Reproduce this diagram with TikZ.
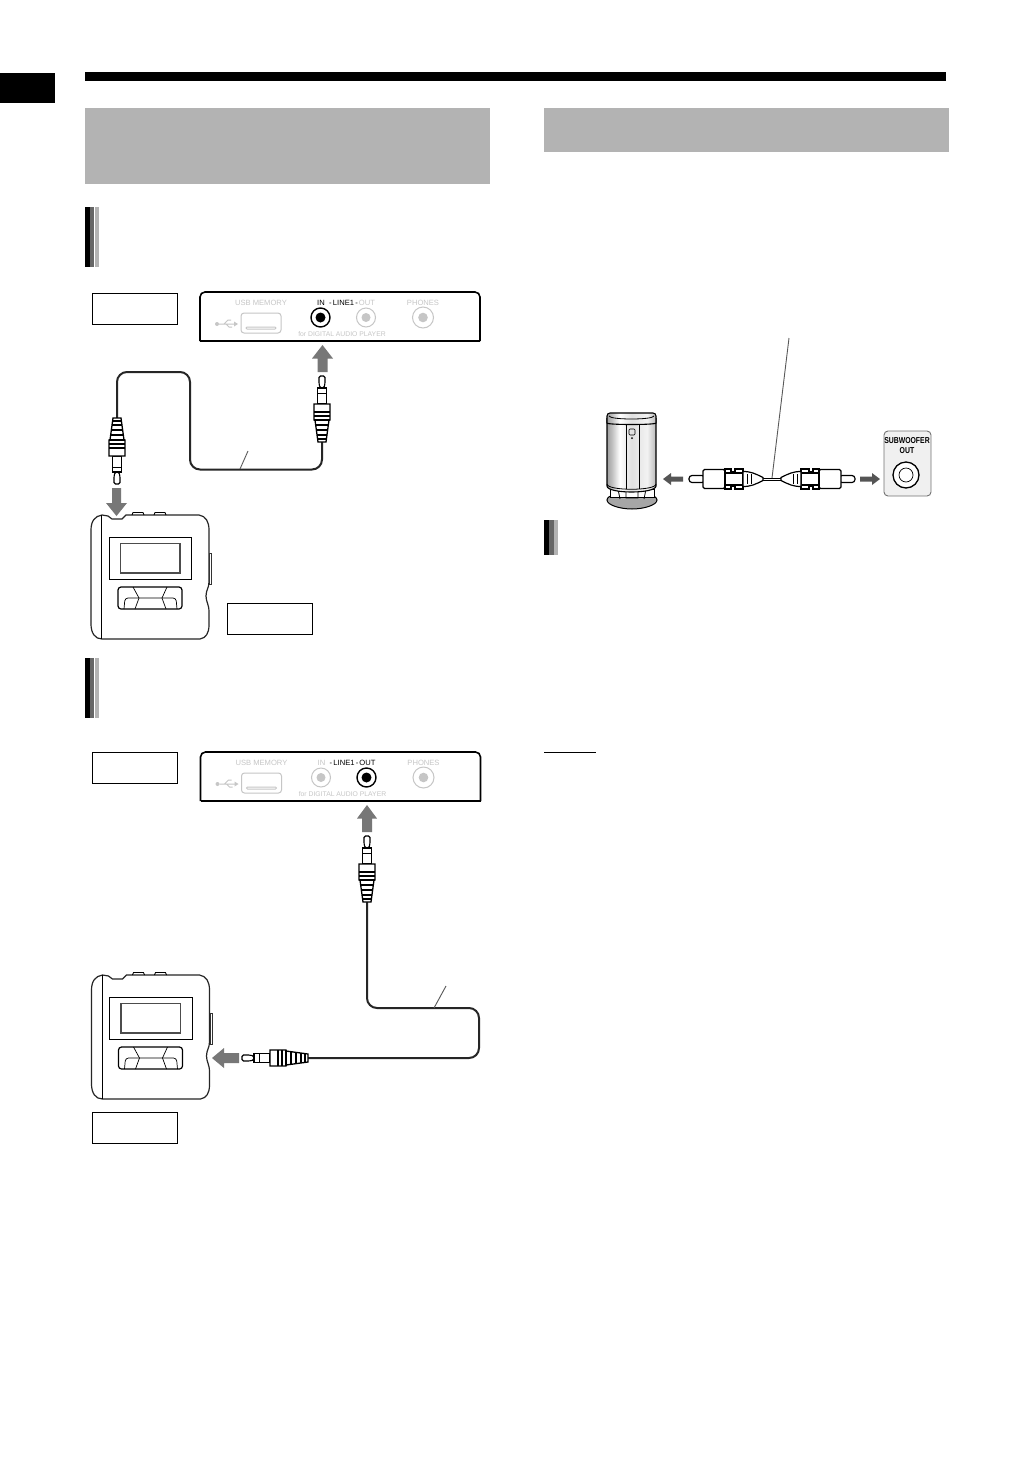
\documentclass[tikz,border=0pt]{standalone}
\usepackage{fontspec}
\setmainfont{Liberation Sans}
\definecolor{hdr}{HTML}{B3B3B3}
\definecolor{barmid}{HTML}{666666}
\definecolor{faint}{HTML}{C6C6C6}
\definecolor{arrowg}{HTML}{777777}
\definecolor{arrowd}{HTML}{555555}
\pgfdeclarehorizontalshading{spkbody}{100bp}{
  color(0bp)=(black!75); color(14bp)=(black!65); color(30bp)=(black!25); color(38bp)=(white);
  color(50bp)=(black!12); color(66bp)=(black!5); color(82bp)=(black!45); color(100bp)=(black!75)}
\tikzset{
  x=1pt,y=-1pt,
  labelbox/.style={draw=black,line width=1pt,fill=white,minimum width=85pt,minimum height=31pt,anchor=north west,inner sep=0pt},
  cable/.style={draw=black!85,line width=2pt,rounded corners=10pt},
  leader/.style={draw=black!65,line width=0.9pt},
  blockarrow/.style={fill=arrowg,draw=none},
  darkarrow/.style={fill=arrowd,draw=none},
  faintline/.style={draw=faint,line width=1pt},
  paneltext/.style={inner sep=0pt,font=\fontsize{7.6}{8}\selectfont},
  jackplug/.pic={
    \draw[line width=1.1pt,fill=white,rounded corners=1.5pt] (-3,0) -- (3,0) -- (3,8) -- (1.8,12) -- (-1.8,12) -- (-3,8) -- cycle;
    \draw[line width=1.2pt,fill=white] (-4.2,12) -- (4.2,12) -- (4.2,28) -- (-4.2,28) -- cycle;
    \draw[line width=1pt] (-4.2,17) -- (4.2,17);
    \draw[line width=1.3pt,fill=white] (-8,28) -- (8,28) -- (8,44) -- (7,44) -- (4,66) -- (-4,66) -- (-7,44) -- (-8,44) -- cycle;
    \draw[line width=1.6pt] (-8,36) -- (8,36) (-8,40) -- (8,40) (-8,44) -- (8,44);
    \draw[line width=1.3pt] (-6.5,49) -- (6.5,49) (-6,54) -- (6,54) (-5.2,59) -- (5.2,59) (-4.5,63) -- (4.5,63);
  },
  rcaplug/.pic={
    \draw[line width=1.2pt,fill=white,rounded corners=3pt] (0,-3.5) -- (16,-3.5) -- (16,3.5) -- (0,3.5) -- cycle;
    \draw[line width=1.3pt,fill=white,rounded corners=1.5pt] (14,-9.5) -- (36,-9.5) -- (36,9.5) -- (14,9.5) -- cycle;
    \draw[line width=1.3pt,fill=white] (36,-10) -- (42,-10) -- (42,-7) -- (46,-7) -- (46,-10) -- (54,-10) -- (54,10) -- (46,10) -- (46,7) -- (42,7) -- (42,10) -- (36,10) -- cycle;
    \draw[line width=1.1pt] (36,-6) -- (54,-6) (36,6) -- (54,6);
    \draw[line width=1.2pt,fill=white] (54,-7.5) .. controls (62,-7.5) and (66,-5.5) .. (74,-1.5) -- (74,1.5) .. controls (66,5.5) and (62,7.5) .. (54,7.5) -- cycle;
    \draw[line width=0.9pt] (58,-5) -- (58,5) (62,-5) -- (62,5);
  }
}
\newcommand{\drawpanel}[4]{% #1 IN colour, #2 OUT colour, #3 x of active jack, #4 x of inactive jack
  \fill[white] (200,292) rectangle (480,341);
  \draw[line width=1.6pt,rounded corners=5pt] (200,341) -- (200,292) -- (480,292) -- (480,341);
  \draw[line width=1.3pt] (200,341) -- (480,341);
  \node[paneltext,text=faint] (usbt#3) at (261,303) {USB MEMORY};
  \node[paneltext,text=#1] (int#3) at (321,303) {IN};
  \node[paneltext,text=black] (linet#3) at (343.5,303) {-\,LINE1\,-};
  \node[paneltext,text=#2] (outt#3) at (367,303) {OUT};
  \node[paneltext,text=faint] (phot#3) at (423,303) {PHONES};
  \node[paneltext,text=faint,font=\fontsize{6.8}{7}\selectfont] (fort#3) at (342,334.5) {for DIGITAL AUDIO PLAYER};
  \draw[faintline,rounded corners=3pt] (241,313) rectangle (281,333);
  \draw[faintline,rounded corners=1pt] (246,327) rectangle (276,329);
  \draw[faintline] (219,324) -- (236,324) (224,324) -- (228,320) -- (231,320) (226,324) -- (229,327) -- (232,327);
  \fill[faint] (217,324) circle[radius=2];
  \fill[faint] (238,324) -- (234,321.5) -- (234,326.5) -- cycle;
  \draw[line width=1.4pt] (#3,317.5) circle[radius=9.5];
  \fill[black] (#3,317.5) circle[radius=5];
  \draw[faintline] (#4,317.5) circle[radius=9.5];
  \fill[faint] (#4,317.5) circle[radius=4.5];
  \draw[faintline] (423,317.5) circle[radius=10.5];
  \fill[faint] (423,317.5) circle[radius=4.8];
}
\newcommand{\drawplayer}{%
  \draw[line width=1.2pt,draw=black!85] (102,515) .. controls (95,516) and (91,521) .. (91,530) -- (91,624) .. controls (91,633) and (95,639) .. (102,639)
     -- (200,639) .. controls (206,638) and (209,633) .. (209,625) -- (209,612) .. controls (209,604) and (206,602) .. (206,596)
     .. controls (206,590) and (209,588) .. (209,582) -- (209,530) .. controls (209,522) and (206,516) .. (199,515)
     -- (126,515) -- (122,519) -- (112,519) -- (108,516) -- cycle;
  \draw[line width=1pt] (101.5,515) -- (101.5,639);
  \draw[line width=0.9pt] (132,515) -- (133,512.5) -- (143,512.5) -- (144,515);
  \draw[line width=0.9pt] (154,515) -- (155,512.5) -- (165,512.5) -- (166,515);
  \draw[line width=1pt,draw=black!80] (209.5,553) rectangle (211.5,584);
  \draw[line width=0.9pt] (109,537) rectangle (191.5,579);
  \draw[line width=1.5pt,draw=black!70] (120.5,543.5) rectangle (180,573);
  \draw[line width=1.2pt,rounded corners=3pt] (118,587) rectangle (182,609);
  \draw[line width=0.7pt,rounded corners=3pt] (124,609) -- (125,598) -- (176,598) -- (177,609);
  \draw[line width=0.7pt] (133,587) -- (139,598) -- (135,609) (167,587) -- (162,598) -- (166,609);
}
\begin{document}
\begin{tikzpicture}
\useasboundingbox (0,0) rectangle (1031,1457);
\fill[white] (0,0) rectangle (1031,1457);
% page furniture
\fill[black] (85,72) rectangle (946,81);
\fill[black] (0,73) rectangle (55,103);
\fill[hdr] (85,108) rectangle (490,184);
\fill[hdr] (544,108) rectangle (949,152);
\foreach \yt/\yb in {207/267,658/718}{
  \fill[black] (85,\yt) rectangle (90,\yb);
  \fill[barmid] (90,\yt) rectangle (94,\yb);
  \fill[hdr] (95,\yt) rectangle (99,\yb);
}
\fill[black] (544,520) rectangle (549,555);
\fill[barmid] (549,520) rectangle (554,555);
\fill[hdr] (554,520) rectangle (558,555);
\draw[line width=1.2pt] (544,752.5) -- (596,752.5);
% label boxes
\node[labelbox] (box1) at (92,293) {};
\node[labelbox] (box2) at (227,603) {};
\node[labelbox] (box3) at (92,752) {};
\node[labelbox] (box4) at (92,1112) {};
% panels
\drawpanel{black}{faint}{320.5}{366}
\begin{scope}[shift={(0.5,460)}]
\drawpanel{faint}{black}{366}{320.5}
\end{scope}
% players
\drawplayer
\begin{scope}[shift={(0.5,460)}]
\drawplayer
\end{scope}
% upper connection
\coordinate (pa) at (322,442);
\coordinate (pb) at (117,420);
\draw[cable] (pb) -- (117,372) -- (190,372) -- (190,469.5) -- (322,469.5) -- (pa);
\pic at (322,376) {jackplug};
\pic[rotate=180] at (117,484) {jackplug};
\coordinate (la) at (240,469);
\coordinate (lb) at (248,451);
\draw[leader] (la) -- (lb);
\fill[blockarrow] (322.5,345) -- (333,358.5) -- (327.5,358.5) -- (327.5,372) -- (317.5,372) -- (317.5,358.5) -- (312,358.5) -- cycle;
\fill[blockarrow] (116.5,516) -- (106,503) -- (112,503) -- (112,488) -- (121,488) -- (121,503) -- (127,503) -- cycle;
% lower connection
\coordinate (pc) at (367,902);
\coordinate (pd) at (307,1058);
\draw[cable] (pc) -- (367,1008) -- (479,1008) -- (479,1058) -- (pd);
\pic at (367,836) {jackplug};
\pic[rotate=90] at (242,1058) {jackplug};
\coordinate (lc) at (434,1008);
\coordinate (ld) at (446,986);
\draw[leader] (lc) -- (ld);
\fill[blockarrow] (367,805) -- (377,818.5) -- (372,818.5) -- (372,832) -- (362,832) -- (362,818.5) -- (357,818.5) -- cycle;
\fill[blockarrow] (212,1058) -- (224,1048) -- (224,1053) -- (239,1053) -- (239,1063) -- (224,1063) -- (224,1068) -- cycle;
% subwoofer
\draw[line width=1pt,fill=black!35] (607,500) .. controls (607,505) and (620,509) .. (632,509) .. controls (644,509) and (657,505) .. (657,500) .. controls (657,495) and (645,493) .. (632,493) .. controls (619,493) and (607,495) .. (607,500) -- cycle;
\draw[line width=0.9pt,fill=white] (610,489) rectangle (654,497.5);
\draw[line width=0.8pt] (618,489) -- (620,499) (646,489) -- (644,499) (626,489) -- (626,498) -- (638,498) -- (638,489);
\shade[shading=spkbody] (607,418) -- (656,418) -- (656,486) .. controls (656,494) and (607,494) .. (607,486) -- cycle;
\draw[line width=1.1pt] (607,418) -- (607,486) .. controls (607,494) and (656,494) .. (656,486) -- (656,418);
\draw[line width=0.8pt] (607,484) .. controls (607,491) and (656,491) .. (656,484);
\shade[shading=spkbody,draw=black,line width=1.1pt,rounded corners=3pt] (607,420) -- (607,413) -- (656,413) -- (656,420) .. controls (656,425) and (607,425) .. (607,420) -- cycle;
\draw[line width=0.8pt] (609,416) .. controls (610,420) and (653,420) .. (654,416);
\draw[line width=0.8pt] (626,424) -- (626,488.5) (639,424) -- (639,488.5);
\draw[line width=0.6pt,rounded corners=1pt] (629,429) rectangle (635,435);
\fill[black] (632,438) circle[radius=1];
% subwoofer cable
\coordinate (ra) at (763,479.5);
\coordinate (rb) at (782,479.5);
\draw[line width=3.6pt] (ra) -- (rb);
\draw[line width=1.5pt,white] (ra) -- (rb);
\pic at (689,479) {rcaplug};
\pic[xscale=-1] at (855,479) {rcaplug};
\coordinate (le) at (789,338);
\coordinate (lf) at (772,478);
\draw[leader] (le) -- (lf);
\fill[darkarrow] (663,479) -- (671,473) -- (671,476.5) -- (683,476.5) -- (683,481.5) -- (671,481.5) -- (671,485) -- cycle;
\fill[darkarrow] (880,479) -- (872,473) -- (872,476.5) -- (860,476.5) -- (860,481.5) -- (872,481.5) -- (872,485) -- cycle;
% subwoofer out socket
\draw[draw=black!55,fill=black!6,line width=0.9pt,rounded corners=4pt] (884,431) rectangle (931,496);
\node[inner sep=0pt,font=\bfseries\fontsize{8.6}{9}\selectfont,xscale=0.8] (sw) at (907,441) {SUBWOOFER};
\node[inner sep=0pt,font=\bfseries\fontsize{8.6}{9}\selectfont,xscale=0.8] (swo) at (907,451) {OUT};
\draw[line width=1.3pt,fill=white] (906,475) circle[radius=13];
\draw[line width=0.7pt] (906,475) circle[radius=7];
\end{tikzpicture}
\end{document}
